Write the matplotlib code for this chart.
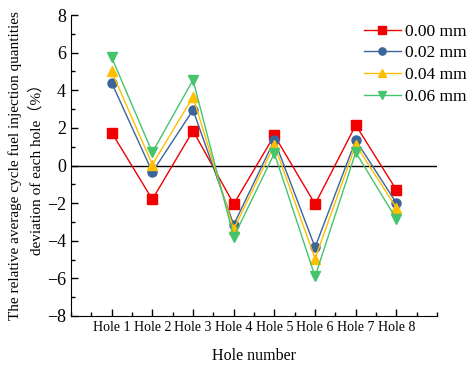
import matplotlib
matplotlib.use('Agg')
from matplotlib import pyplot as plt
from matplotlib.ticker import MultipleLocator

holes = ['Hole 1', 'Hole 2', 'Hole 3', 'Hole 4', 'Hole 5', 'Hole 6', 'Hole 7', 'Hole 8']
dev_000 = [1.75, -1.8, 1.85, -2.05, 1.6, -2.05, 2.15, -1.3]
dev_002 = [4.4, -0.35, 2.95, -3.15, 1.35, -4.35, 1.35, -2.0]
dev_004 = [5.0, 0.05, 3.65, -3.4, 1.1, -4.95, 1.1, -2.25]
dev_006 = [5.75, 0.7, 4.55, -3.8, 0.65, -5.9, 0.7, -2.85]
labels = ['0.00 mm', '0.02 mm', '0.04 mm', '0.06 mm']

plt.rcParams['font.family'] = ['Liberation Serif', 'Noto Sans CJK SC']

fig = plt.figure(figsize=(4.67, 3.67), dpi=100)
ax = fig.add_axes([0.152, 0.139, 0.784, 0.82])

x = list(range(1, len(holes) + 1))
styles = [('#f00000', 's'), ('#3a659c', 'o'), ('#ffbf00', '^'), ('#45c46e', 'v')]
for vals, lab, (c, m) in zip([dev_000, dev_002, dev_004, dev_006], labels, styles):
    ax.plot(x, vals, color=c, marker=m, markersize=6.5, linewidth=1, label=lab)

ax.axhline(0, color='black', linewidth=1, zorder=0)

ax.set_xlim(0, 9)
ax.set_ylim(-8, 8)
ax.set_xticks(x)
ax.set_xticklabels(holes, fontsize=10)
ax.xaxis.set_minor_locator(MultipleLocator(0.5))
ax.yaxis.set_major_locator(MultipleLocator(2))
ax.yaxis.set_minor_locator(MultipleLocator(1))
ax.tick_params(axis='y', labelsize=13)
ax.tick_params(which='both', direction='in', width=1)
ax.tick_params(which='major', length=5)
ax.tick_params(which='minor', length=3)
for s in ['top', 'right']:
    ax.spines[s].set_visible(False)

ax.set_xlabel('Hole number', fontsize=11.5, labelpad=10)
ax.set_ylabel('The relative average cycle fuel injection quantities\ndeviation of each hole（%）',
              fontsize=11, linespacing=1.6)
ax.yaxis.set_label_coords(-0.074, 0.5)

ax.legend(loc='upper left', bbox_to_anchor=(0.80, 0.972), frameon=False, fontsize=12.5,
          borderpad=0, borderaxespad=0, handlelength=2.13, handletextpad=0.23,
          labelspacing=0.32, markerscale=0.8)

fig.savefig('out.png', dpi=100)
